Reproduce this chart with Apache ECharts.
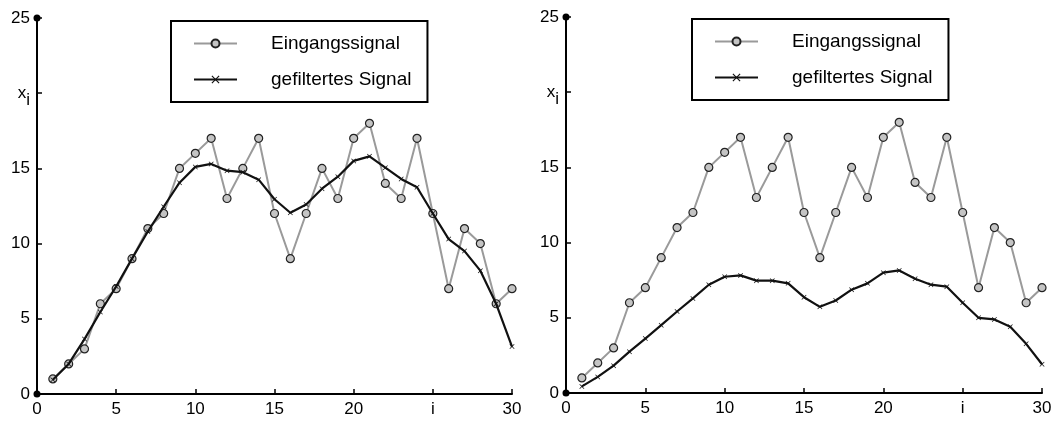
<!DOCTYPE html>
<html><head><meta charset="utf-8">
<script src="https://cdn.jsdelivr.net/npm/echarts@6/dist/echarts.min.js"></script>
<style>html,body{margin:0;padding:0;background:#fff}#c{width:1056px;height:421px}</style>
</head><body><div id="c"></div>
<script>
// ---- data ----
const indices = [1,2,3,4,5,6,7,8,9,10,11,12,13,14,15,16,17,18,19,20,21,22,23,24,25,26,27,28,29,30];
const inputSignal = [1,2,3,6,7,9,11,12,15,16,17,13,15,17,12,9,12,15,13,17,18,14,13,17,12,7,11,10,6,7];
const filteredLeft = [0.95,2.0,3.65,5.45,7.15,9.0,10.8,12.45,14.05,15.1,15.3,14.85,14.75,14.25,12.95,12.05,12.6,13.65,14.45,15.5,15.8,15.05,14.3,13.75,12.0,10.3,9.5,8.2,6.0,3.15];
const filteredRight = [0.44,1.07,1.82,2.75,3.62,4.51,5.42,6.29,7.2,7.73,7.82,7.47,7.47,7.29,6.37,5.73,6.15,6.87,7.29,8.0,8.15,7.6,7.2,7.07,6.0,5.0,4.89,4.4,3.27,1.91];
const xTickLabels = ['0','5','10','15','20','i','30'];
const yTickLabels = ['0','5','10','15','x_i','25'];
const seriesNames = ['Eingangssignal','gefiltertes Signal'];

const FONT = '"Liberation Sans", Arial, Helvetica, sans-serif';
const crossPath = 'path://M0,1L1,0L5,4L9,0L10,1L6,5L10,9L9,10L5,6L1,10L0,9L4,5Z';
const pairs = arr => indices.map((x, k) => [x, arr[k]]);

function xAxisFor(gi) {
  return {
    gridIndex: gi, type: 'value', min: 0, max: 30, interval: 5,
    axisLine: { show: true, lineStyle: { color: '#000', width: 2 }, symbol: ['circle', 'none'], symbolSize: [7, 7] },
    axisTick: { show: true, inside: true, length: 5, lineStyle: { color: '#000', width: 1.5 } },
    axisLabel: { color: '#000', fontSize: 17, fontFamily: FONT, margin: 7,
      formatter: v => xTickLabels[Math.round(v / 5)] },
    splitLine: { show: false }
  };
}
function yAxisFor(gi) {
  return {
    gridIndex: gi, type: 'value', min: 0, max: 25, interval: 5,
    axisLine: { show: true, lineStyle: { color: '#000', width: 2 }, symbol: ['none', 'circle'], symbolSize: [7, 7] },
    axisTick: { show: true, inside: true, length: 5, lineStyle: { color: '#000', width: 1.5 } },
    axisLabel: { color: '#000', fontSize: 17, fontFamily: FONT, margin: 7,
      formatter: v => {
        const t = yTickLabels[Math.round(v / 5)];
        if (t.indexOf('_') >= 0) { const p = t.split('_'); return '{b|' + p[0] + '}{s|' + p[1] + '}'; }
        return t;
      },
      rich: {
        b: { fontSize: 17, fontFamily: FONT, color: '#000' },
        s: { fontSize: 17, fontFamily: FONT, color: '#000', padding: [14, 0, 0, 0] }
      }
    },
    splitLine: { show: false }
  };
}
function inputSeries(gi) {
  return {
    name: seriesNames[0], type: 'line', xAxisIndex: gi, yAxisIndex: gi,
    data: pairs(inputSignal), symbol: 'circle', symbolSize: 8, showAllSymbol: true,
    lineStyle: { color: '#9a9a9a', width: 2 },
    itemStyle: { color: '#c4c4c4', borderColor: '#222', borderWidth: 1.2 },
    emphasis: { disabled: true }, animation: false, z: 2
  };
}
function filteredSeries(gi, arr) {
  return {
    name: seriesNames[1], type: 'line', xAxisIndex: gi, yAxisIndex: gi,
    data: pairs(arr), symbol: crossPath, symbolSize: 5, showAllSymbol: true,
    lineStyle: { color: '#111', width: 2.2 },
    itemStyle: { color: '#111', borderWidth: 0 },
    emphasis: { disabled: true }, animation: false, z: 3
  };
}
function legendAt(left, top) {
  return {
    orient: 'vertical', left: left, top: top, data: seriesNames,
    itemWidth: 43, itemHeight: 10, itemGap: 17,
    padding: [13, 16, 13, 22], borderColor: '#000', borderWidth: 2, backgroundColor: '#fff',
    selectedMode: false,
    textStyle: { color: '#000', fontSize: 19, fontFamily: FONT, padding: [0, 0, 0, 29] }
  };
}

const chart = echarts.init(document.getElementById('c'), null, { renderer: 'canvas' });
chart.setOption({
  animation: false,
  backgroundColor: '#fff',
  grid: [
    { left: 37, top: 18, width: 475, height: 376 },
    { left: 566, top: 17, width: 476, height: 376 }
  ],
  legend: [legendAt(171, 21), legendAt(692, 19)],
  xAxis: [xAxisFor(0), xAxisFor(1)],
  yAxis: [yAxisFor(0), yAxisFor(1)],
  series: [
    inputSeries(0), filteredSeries(0, filteredLeft),
    inputSeries(1), filteredSeries(1, filteredRight)
  ]
});
</script></body></html>
